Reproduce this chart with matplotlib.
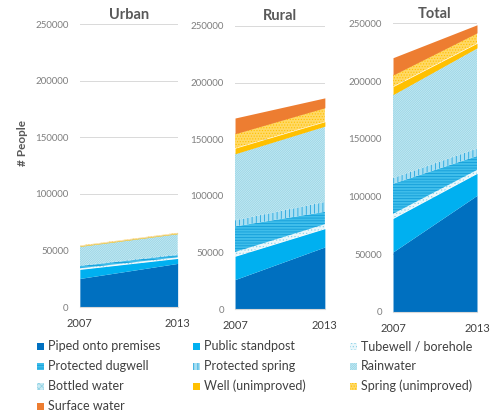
import matplotlib.pyplot as plt
from matplotlib.patches import Rectangle

plt.rcParams['font.family'] = ['Lato', 'DejaVu Sans']
plt.rcParams['hatch.linewidth'] = 0.5

years = [2007, 2013]
panels = ['Urban', 'Rural', 'Total']
sources = ['Piped onto premises', 'Public standpost', 'Tubewell / borehole',
           'Protected dugwell', 'Protected spring', 'Rainwater',
           'Bottled water', 'Well (unimproved)', 'Spring (unimproved)',
           'Surface water']

# people per source, [2007, 2013], stacked in the order of `sources`
urban = [[25300, 38600], [8000, 4400], [1000, 1000], [2000, 2000], [500, 700],
         [16500, 17800], [300, 300], [500, 500], [300, 300], [100, 100]]
rural = [[26000, 54800], [20600, 16200], [3800, 3900], [22600, 10900],
         [5400, 8800], [58400, 66400], [300, 500], [5000, 4000],
         [12700, 12300], [13900, 8700]]
total = [[52000, 101000], [29000, 19000], [4000, 3000], [26000, 12000],
         [5000, 6600], [71700, 86400], [500, 700], [7000, 4000],
         [10000, 9000], [15000, 7000]]
yticks = [0, 50000, 100000, 150000, 200000, 250000]

# facecolor, hatch, hatch colour
styles = [
    ('#0070C0', None, '#0070C0'),
    ('#00B0F0', None, '#00B0F0'),
    ('#EAF7FB', '.....', '#8FD3E8'),
    ('#3FBDEA', '------', '#0A98D6'),
    ('#A8DFF2', '||||', '#0A9ADA'),
    ('#C9EAF3', '///////////////', '#8FD2E4'),
    ('#C9EAF3', 'xxxxxx', '#8FD2E4'),
    ('#FFC000', None, '#FFC000'),
    ('#FFD966', '......', '#FFC000'),
    ('#ED7D31', None, '#ED7D31'),
]

# axes boxes in figure fractions (left, bottom, width, height)
boxes = [(0.160, 0.260, 0.196, 0.682),
         (0.471, 0.2554, 0.180, 0.682),
         (0.7876, 0.2482, 0.1683, 0.6957)]

fig = plt.figure(figsize=(4.99, 4.15), dpi=100)

for name, data, box in zip(panels, [urban, rural, total], boxes):
    ax = fig.add_axes(box)
    base = [0, 0]
    for vals, (fc, hatch, hc) in zip(data, styles):
        top = [b + v for b, v in zip(base, vals)]
        ax.fill_between(years, base, top, facecolor=fc, edgecolor=hc,
                        hatch=hatch, linewidth=0, zorder=2)
        base = top
    ax.set_xlim(2007, 2013)
    ax.set_ylim(0, 250000)
    ax.set_yticks(yticks)
    ax.set_yticklabels([str(t) for t in yticks])
    ax.set_xticks(years)
    ax.grid(axis='y', color='#D9D9D9', linewidth=0.7, zorder=0)
    for s in ['top', 'right', 'left']:
        ax.spines[s].set_visible(False)
    ax.spines['bottom'].set_color('#D9D9D9')
    ax.tick_params(axis='y', length=0, pad=8, labelsize=7, labelcolor='#7F7F7F')
    ax.tick_params(axis='x', length=0, pad=8, labelsize=8, labelcolor='#404040')
    ax.set_title(name, fontsize=10.5, fontweight='bold', color='#595959', pad=4)

fig.text(0.046, 0.655, '# People', rotation=90, ha='center', va='center',
         fontsize=8.5, fontweight='bold', color='#595959')

# legend, 3 columns row-wise
col_x = [37, 193, 350]
row_y = [346, 366, 386, 406]
for i, (label, (fc, hatch, hc)) in enumerate(zip(sources, styles)):
    x = col_x[i % 3] / 499
    y = 1 - row_y[i // 3] / 415
    fig.patches.append(Rectangle((x, y - 3.5 / 415), 7 / 499, 7 / 415,
                                 transform=fig.transFigure, facecolor=fc,
                                 edgecolor=hc, hatch=hatch, linewidth=0))
    fig.text(x + 11 / 499, y, label, ha='left', va='center', fontsize=9,
             color='#404040')

fig.savefig('out.png', dpi=100)
